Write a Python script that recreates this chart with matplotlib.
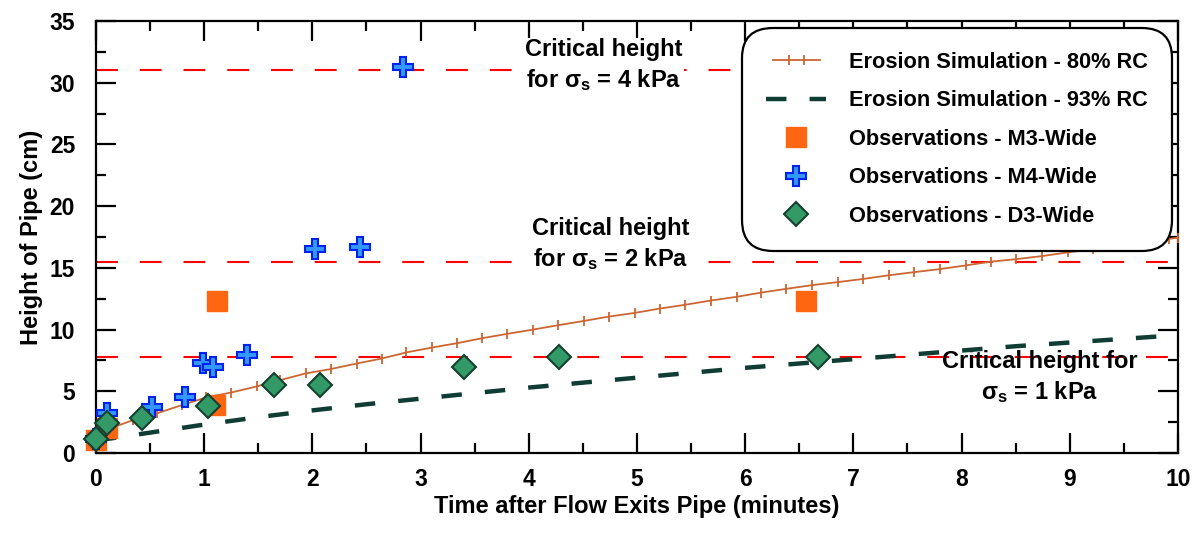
import numpy as np
import matplotlib.pyplot as plt
from matplotlib.ticker import MultipleLocator
from matplotlib.legend_handler import HandlerLine2D

plt.rcParams['font.family'] = ['Liberation Sans', 'DejaVu Sans']
plt.rcParams['font.weight'] = 'bold'
plt.rcParams['mathtext.fontset'] = 'custom'
plt.rcParams['mathtext.rm'] = 'Liberation Sans'
plt.rcParams['mathtext.it'] = 'Liberation Sans'
plt.rcParams['mathtext.bf'] = 'Liberation Sans:bold'

# erosion simulation, 80% RC (orange line with tick markers)
sim80_t = [0.0, 0.1, 0.34, 0.56, 0.80, 1.02, 1.25, 1.49, 1.70, 1.94, 2.17, 2.41, 2.64,
           2.87, 3.11, 3.34, 3.57, 3.80, 4.04, 4.27, 4.51, 4.74, 4.98, 5.21, 5.44,
           5.68, 5.92, 6.15, 6.38, 6.62, 6.86, 7.09, 7.33, 7.56, 7.80, 8.04, 8.27,
           8.50, 8.74, 8.98, 9.21, 9.45, 9.68, 9.92, 10.0]
sim80_h = [1.6, 1.9, 2.65, 3.2, 3.9, 4.5, 4.9, 5.4, 5.9, 6.45, 6.8, 7.25, 7.65,
           8.15, 8.55, 8.9, 9.3, 9.65, 10.0, 10.35, 10.7, 11.05, 11.35, 11.7, 12.0,
           12.35, 12.65, 13.0, 13.3, 13.6, 13.85, 14.1, 14.4, 14.65, 14.9, 15.2, 15.5,
           15.7, 15.95, 16.25, 16.5, 16.8, 17.05, 17.35, 17.45]

# erosion simulation, 93% RC (dark dashed line)
sim93_t = [0.0, 0.5, 1.0, 1.5, 2.0, 2.5, 3.0, 3.5, 4.0, 4.5, 5.0, 5.5, 6.0, 6.5,
           7.0, 7.5, 8.0, 8.5, 9.0, 9.5, 10.0]
sim93_h = [1.0, 1.65, 2.3, 2.9, 3.45, 3.95, 4.4, 4.85, 5.3, 5.7, 6.1, 6.5, 6.9, 7.25,
           7.6, 7.95, 8.3, 8.65, 8.95, 9.25, 9.55]

# observations
m3_t = [0.0, 0.1, 1.1, 1.12, 6.56]
m3_h = [1.05, 2.0, 3.9, 12.3, 12.3]

m4_t = [0.0, 0.1, 0.52, 0.82, 0.99, 1.08, 1.4, 2.02, 2.44, 2.84]
m4_h = [1.1, 3.2, 3.7, 4.55, 7.3, 7.0, 7.9, 16.5, 16.7, 31.3]

d3_t = [0.0, 0.1, 0.43, 1.04, 1.65, 2.07, 3.4, 4.28, 6.67]
d3_h = [1.15, 2.4, 2.8, 3.8, 5.5, 5.5, 6.95, 7.8, 7.8]

# critical heights
crit_h = [31.0, 15.5, 7.75]

fig = plt.figure(figsize=(11.99, 5.34), dpi=100)
ax = fig.add_axes([0.080, 0.1517, 0.9025, 0.809])

for h in crit_h:
    ax.axhline(h, color='red', lw=1.5, dashes=(10.5, 10.5), zorder=1)

l80, = ax.plot(sim80_t, sim80_h, color='#cc6633', lw=1.3, marker='|', ms=7, mew=1.3,
               label='Erosion Simulation - 80% RC', zorder=3)
l93, = ax.plot(sim93_t, sim93_h, color='#0f3d33', lw=3.2, dashes=(4.6, 5.2),
               label='Erosion Simulation - 93% RC', zorder=3)
ax.plot(m3_t, m3_h, ls='none', marker='s', ms=14.5, color='#ff6611', mec='#ff6611',
        label='Observations - M3-Wide', zorder=4, clip_on=False)
ax.plot(m4_t, m4_h, ls='none', marker='P', ms=15, mfc='#3399ff', mec='#0022ee', mew=1.5,
        label='Observations - M4-Wide', zorder=5, clip_on=False)
ax.plot(d3_t, d3_h, ls='none', marker='D', ms=12, mfc='#339966', mec='#15402f', mew=1.5,
        label='Observations - D3-Wide', zorder=6, clip_on=False)

ax.set_xlim(0, 10)
ax.set_ylim(0, 35)
ax.xaxis.set_major_locator(MultipleLocator(1))
ax.xaxis.set_minor_locator(MultipleLocator(0.5))
ax.yaxis.set_major_locator(MultipleLocator(5))
ax.yaxis.set_minor_locator(MultipleLocator(2.5))
ax.tick_params(which='both', direction='in', top=True, right=True, width=1.6)
ax.tick_params(which='major', length=14.5, labelsize=16.5)
ax.tick_params(which='minor', length=7.5)
ax.tick_params(axis='x', pad=11)
ax.tick_params(axis='y', pad=15)
for s in ax.spines.values():
    s.set_linewidth(1.6)

ax.set_xlabel('Time after Flow Exits Pipe (minutes)', fontsize=17, fontweight='bold', labelpad=3)
ax.set_ylabel('Height of Pipe (cm)', fontsize=17, fontweight='bold', labelpad=5)

fs = 17
sig = '$\\mathrm{\\sigma}_\\mathbf{s}$'
ax.text(4.69, 31.4, 'Critical height\nfor ' + sig + ' = 4 kPa', ha='center', va='center',
        fontsize=fs, fontweight='bold', linespacing=1.28,
        bbox=dict(fc='white', ec='none', pad=1), zorder=2)
ax.text(4.76, 16.9, 'Critical height\nfor ' + sig + ' = 2 kPa', ha='center', va='center',
        fontsize=fs, fontweight='bold', linespacing=1.28,
        bbox=dict(fc='white', ec='none', pad=1), zorder=2)
ax.text(8.72, 6.1, 'Critical height for\n' + sig + ' = 1 kPa', ha='center', va='center',
        fontsize=fs, fontweight='bold', linespacing=1.28, zorder=2)

leg = ax.legend(loc='upper right', bbox_to_anchor=(0.9885, 0.969), borderaxespad=0,
                fontsize=15.7, frameon=True, fancybox=True, framealpha=1,
                edgecolor='black', handlelength=2.75, handletextpad=1.05,
                labelspacing=0.8, borderpad=0.8, markerscale=1.0, numpoints=1,
                handler_map={l80: HandlerLine2D(numpoints=4)})
leg.get_frame().set_linewidth(1.6)
leg.get_frame().set_boxstyle('round', pad=0.3, rounding_size=1.4)
leg.set_zorder(10)
leg.legend_handles[0].set_markevery([1, 2])

fig.savefig('out.png', dpi=100)
